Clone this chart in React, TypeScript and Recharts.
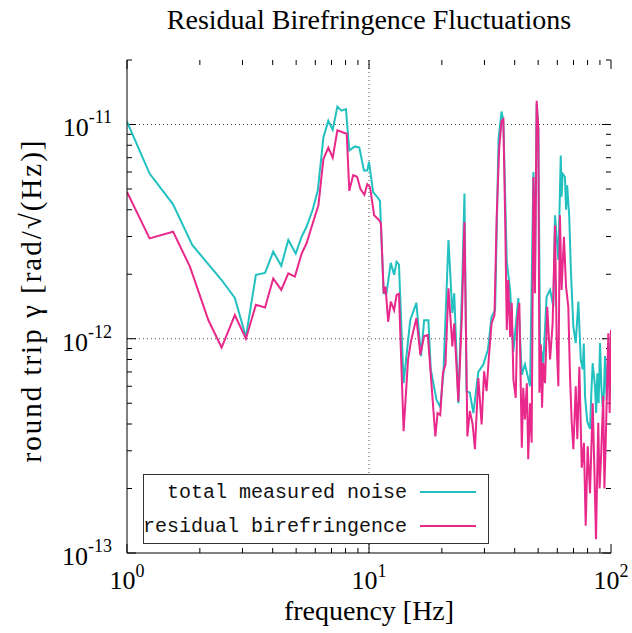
import { LineChart, Line, XAxis, YAxis, ReferenceLine, Legend, Label } from 'recharts'

// frequencies in Hz, amplitudes in units of 1e-12 rad/√Hz
const totalFreq = [
  1.0, 1.24, 1.55, 1.86, 2.46, 2.79, 3.1, 3.41, 3.72, 4.02, 4.34, 4.64, 4.98, 5.27, 5.52, 5.85,
  6.14, 6.48, 6.79, 7.08, 7.4, 7.71, 8.03, 8.29, 8.75, 9.12, 9.53, 9.84, 10.0, 10.4, 10.8, 11.1,
  11.5, 11.8, 12.3, 12.7, 13.0, 13.3, 13.9, 14.8, 15.7, 16.4, 16.9, 17.6, 18.0, 19.0, 19.7, 20.3,
  21.3, 22.1, 22.5, 23.4, 24.3, 24.8, 25.3, 26.1, 27.0, 28.3, 29.7, 31.0, 32.1, 33.2, 34.3, 35.3,
  35.9, 37.1, 38.3, 39.5, 41.4, 42.8, 44.1, 46.3, 47.8, 48.5, 49.3, 50.1, 50.9, 52.5, 54.2, 56.0,
  57.8, 58.7, 60.6, 62.0, 62.5, 63.1, 64.5, 65.2, 65.9, 67.2, 68.3, 69.9, 71.5, 73.3, 75.0, 76.4,
  77.2, 78.1, 79.8, 81.9, 82.9, 84.0, 85.9, 86.8, 87.8, 88.9, 90.1, 91.2, 92.4, 93.4, 94.5, 96.0,
  97.5, 98.7, 100,
]
const totalNoise = [
  10.3, 5.9, 4.24, 2.74, 1.88, 1.55, 1.02, 1.99, 2.03, 2.55, 2.19, 2.89, 2.5, 3.0, 3.33, 4.0,
  4.9, 8.7, 10.4, 9.45, 12.1, 11.6, 11.8, 7.57, 7.9, 7.8, 6.1, 6.1, 6.7, 4.84, 4.6, 4.4,
  1.63, 1.62, 2.26, 1.99, 2.29, 2.22, 0.62, 1.22, 1.47, 0.83, 1.22, 1.22, 0.72, 0.52, 0.48, 0.69,
  2.89, 1.32, 1.63, 0.5, 1.88, 4.76, 0.57, 0.56, 0.45, 0.7, 0.76, 0.89, 1.27, 1.36, 8.6, 11.5,
  10.4, 2.29, 1.69, 0.87, 1.55, 0.68, 0.76, 0.6, 6.0, 1.9, 12.5, 9.5, 0.955, 0.77, 1.57, 1.69,
  1.41, 3.77, 2.33, 7.17, 4.6, 5.9, 5.69, 4.0, 5.2, 3.71, 2.06, 1.14, 0.955, 1.49, 0.8, 0.72,
  0.95, 0.54, 0.41, 0.38, 0.55, 0.77, 0.6, 0.45, 0.69, 0.5, 0.955, 0.6, 0.48, 0.55, 0.83, 0.52,
  0.955, 0.6, 1.1,
]

const residualFreq = [
  1.0, 1.24, 1.55, 1.82, 2.17, 2.46, 2.79, 3.1, 3.41, 3.72, 4.02, 4.34, 4.64, 4.94, 5.27, 5.52,
  5.85, 6.18, 6.48, 6.79, 7.08, 7.4, 8.09, 8.29, 8.6, 8.93, 9.22, 9.57, 9.84, 10.1, 10.5, 11.0,
  11.2, 11.5, 11.7, 12.0, 12.3, 12.7, 13.0, 13.3, 13.9, 14.5, 14.9, 15.7, 16.3, 16.9, 17.5, 18.0,
  18.8, 19.2, 19.7, 20.2, 20.7, 21.3, 22.1, 22.5, 23.4, 24.2, 24.8, 25.5, 26.1, 26.8, 27.4, 28.3,
  29.2, 29.9, 30.6, 31.3, 32.1, 33.0, 33.7, 34.5, 35.3, 35.9, 36.5, 37.1, 37.6, 38.3, 38.9, 39.5,
  40.4, 41.0, 41.8, 42.8, 43.4, 44.1, 44.9, 45.5, 46.3, 47.0, 47.8, 48.5, 49.3, 50.1, 50.6, 51.3,
  51.9, 52.5, 53.4, 54.5, 56.0, 57.4, 58.7, 59.7, 60.6, 61.5, 62.5, 63.9, 65.2, 66.6, 67.7, 68.8,
  69.9, 71.5, 72.6, 74.0, 75.7, 77.3, 78.6, 80.1, 81.9, 82.9, 84.0, 85.3, 86.7, 87.6, 88.6, 89.7,
  90.9, 92.9, 93.9, 95.1, 96.3, 97.5, 98.7, 100,
]
const residualBiref = [
  4.84, 2.94, 3.16, 2.17, 1.22, 0.91, 1.29, 1.0, 1.44, 1.4, 1.91, 1.69, 2.02, 1.95, 2.5, 2.79,
  3.45, 4.2, 6.9, 7.8, 7.0, 9.4, 9.05, 4.9, 5.8, 5.7, 5.0, 4.7, 5.26, 5.1, 3.77, 3.58,
  3.45, 1.63, 1.75, 1.2, 1.49, 1.36, 1.6, 1.62, 0.37, 0.8, 0.97, 1.25, 0.84, 1.03, 1.04, 0.68,
  0.35, 0.45, 0.44, 0.69, 0.76, 1.72, 0.92, 1.18, 0.51, 1.27, 3.51, 0.35, 0.46, 0.4, 0.305, 0.656,
  0.398, 0.705, 0.569, 0.827, 1.18, 1.29, 3.71, 7.71, 10.4, 10.6, 3.84, 1.1, 1.88, 1.02, 1.47, 0.645,
  0.53, 1.22, 1.47, 0.31, 0.59, 0.42, 0.62, 0.274, 0.5, 0.327, 5.69, 1.63, 12.9, 9.55, 0.56, 0.94,
  0.476, 0.77, 0.62, 1.41, 0.8, 1.18, 3.39, 0.92, 0.6, 3.77, 1.69, 2.99, 1.75, 1.41, 0.67, 0.41,
  0.305, 0.6, 0.34, 0.74, 0.25, 0.327, 0.134, 0.315, 0.19, 0.3, 0.5, 0.255, 0.116, 0.22, 0.405, 0.2,
  0.274, 0.54, 0.2, 0.327, 0.6, 1.06, 0.45, 1.1,
]

const xTicks = [1, 2, 3, 4, 5, 6, 7, 8, 9, 10, 20, 30, 40, 50, 60, 70, 80, 90, 100]
const yTicks = [0.1, 0.2, 0.3, 0.4, 0.5, 0.6, 0.7, 0.8, 0.9, 1, 2, 3, 4, 5, 6, 7, 8, 9, 10, 20]
const xExponent: Record<number, string> = { 1: '0', 10: '1', 100: '2' }
const yExponent: Record<number, string> = { 0.1: '-13', 1: '-12', 10: '-11' }
const X_DOMAIN = [1, 100]
const Y_DOMAIN = [0.1, 20]

const totalData = totalFreq.map((f, i) => ({ f, v: totalNoise[i] }))
const residualData = residualFreq.map((f, i) => ({ f, v: residualBiref[i] }))

const CYAN = '#22c0c0'
const PINK = '#e8288a'
const SERIF = '"Liberation Serif", serif'
const MONO = '"Liberation Mono", monospace'

const PLOT_W = 484
const PLOT_H = 493

const isMajor = (v: number) => Math.abs(Math.log10(v) - Math.round(Math.log10(v))) < 1e-6

// convert a tick length in pixels into a factor on the log axes
const xFactor = (px: number) => 10 ** ((px * Math.log10(X_DOMAIN[1] / X_DOMAIN[0])) / PLOT_W)
const yFactor = (px: number) => 10 ** ((px * Math.log10(Y_DOMAIN[1] / Y_DOMAIN[0])) / PLOT_H)
const tickLen = (v: number) => (isMajor(v) ? 9 : 5)

const tickSegments = [
  ...xTicks.flatMap((t) => [
    [{ x: t, y: Y_DOMAIN[0] }, { x: t, y: Y_DOMAIN[0] * yFactor(tickLen(t)) }],
    [{ x: t, y: Y_DOMAIN[1] }, { x: t, y: Y_DOMAIN[1] / yFactor(tickLen(t)) }],
  ]),
  ...yTicks.flatMap((t) => [
    [{ x: X_DOMAIN[0], y: t }, { x: X_DOMAIN[0] * xFactor(tickLen(t)), y: t }],
    [{ x: X_DOMAIN[1], y: t }, { x: X_DOMAIN[1] / xFactor(tickLen(t)), y: t }],
  ]),
]

function BottomTick({ x, y, payload }: any) {
  if (!isMajor(payload.value)) return <g />
  return (
    <text x={x} y={y + 36} textAnchor="middle" fontFamily={SERIF} fontSize={26} fill="#000">
      10<tspan dy={-12} fontSize={18}>{xExponent[payload.value]}</tspan>
    </text>
  )
}

function LeftTick({ x, y, payload }: any) {
  if (!isMajor(payload.value)) return <g />
  return (
    <text x={x - 15} y={y + 12} textAnchor="end" fontFamily={SERIF} fontSize={26} fill="#000">
      10<tspan dy={-13} fontSize={18}>{yExponent[payload.value]}</tspan>
    </text>
  )
}

function LegendBox() {
  return (
    <svg width={346} height={70} style={{ display: 'block' }}>
      <rect x={0.5} y={0.5} width={345} height={69} fill="#fff" stroke="#333" />
      <text x={264} y={24} textAnchor="end" fontFamily={MONO} fontSize={20} fill="#111">
        total measured noise
      </text>
      <line x1={277} x2={333} y1={18} y2={18} stroke={CYAN} strokeWidth={2} />
      <text x={264} y={58} textAnchor="end" fontFamily={MONO} fontSize={20} fill="#111">
        residual birefringence
      </text>
      <line x1={277} x2={333} y1={52} y2={52} stroke={PINK} strokeWidth={2} />
    </svg>
  )
}

export default function App() {
  return (
    <div style={{ position: 'absolute', left: 0, top: 0, width: 632, height: 633, background: '#fff' }}>
      <div
        style={{
          position: 'absolute',
          left: 127,
          top: 4,
          width: 484,
          textAlign: 'center',
          fontFamily: SERIF,
          fontSize: 28,
          lineHeight: '32px',
          color: '#000',
        }}
      >
        Residual Birefringence Fluctuations
      </div>
      <LineChart width={632} height={633} margin={{ top: 60, right: 21, bottom: 0, left: 0 }}>
        <XAxis
          dataKey="f"
          type="number"
          scale="log"
          domain={X_DOMAIN}
          ticks={xTicks}
          interval={0}
          allowDataOverflow
          height={80}
          tickSize={0}
          tickMargin={0}
          tickLine={false}
          stroke="#000"
          tick={<BottomTick />}
        >
          <Label
            content={({ viewBox }: any) => (
              <text x={viewBox.x + viewBox.width / 2} y={viewBox.y + 67} textAnchor="middle" fontFamily={SERIF} fontSize={28} fill="#000">
                frequency [Hz]
              </text>
            )}
          />
        </XAxis>
        <XAxis
          xAxisId="top"
          orientation="top"
          dataKey="f"
          type="number"
          scale="log"
          domain={X_DOMAIN}
          allowDataOverflow
          height={0}
          tick={false}
          tickLine={false}
          stroke="#000"
        />
        <YAxis
          type="number"
          scale="log"
          domain={Y_DOMAIN}
          ticks={yTicks}
          interval={0}
          allowDataOverflow
          width={127}
          tickSize={0}
          tickMargin={0}
          tickLine={false}
          stroke="#000"
          tick={<LeftTick />}
        >
          <Label
            content={({ viewBox }: any) => {
              const cy = viewBox.y + viewBox.height / 2 - 5
              return (
                <text
                  x={41}
                  y={cy}
                  transform={`rotate(-90 41 ${cy})`}
                  textAnchor="middle"
                  fontFamily={SERIF}
                  fontSize={29}
                  textLength={322}
                  lengthAdjust="spacing"
                  fill="#000"
                >
                  round trip γ [rad/√(Hz)]
                </text>
              )
            }}
          />
        </YAxis>
        <YAxis
          yAxisId="right"
          orientation="right"
          type="number"
          scale="log"
          domain={Y_DOMAIN}
          allowDataOverflow
          width={0}
          tick={false}
          tickLine={false}
          stroke="#000"
        />
        <ReferenceLine x={10} stroke="#444" strokeDasharray="1 3" />
        <ReferenceLine y={1} stroke="#444" strokeDasharray="1 3" />
        <ReferenceLine y={10} stroke="#444" strokeDasharray="1 3" />
        {tickSegments.map((seg, i) => (
          <ReferenceLine key={i} segment={seg} stroke="#000" strokeWidth={1} />
        ))}
        <Line data={totalData} dataKey="v" name="total measured noise" stroke={CYAN} strokeWidth={2} dot={false} type="linear" isAnimationActive={false} />
        <Line data={residualData} dataKey="v" name="residual birefringence" stroke={PINK} strokeWidth={2} dot={false} type="linear" isAnimationActive={false} />
        <Legend
          layout="horizontal"
          verticalAlign="middle"
          align="center"
          content={() => <LegendBox />}
          wrapperStyle={{ left: 143, top: 474, width: 346, height: 70 }}
        />
      </LineChart>
    </div>
  )
}
